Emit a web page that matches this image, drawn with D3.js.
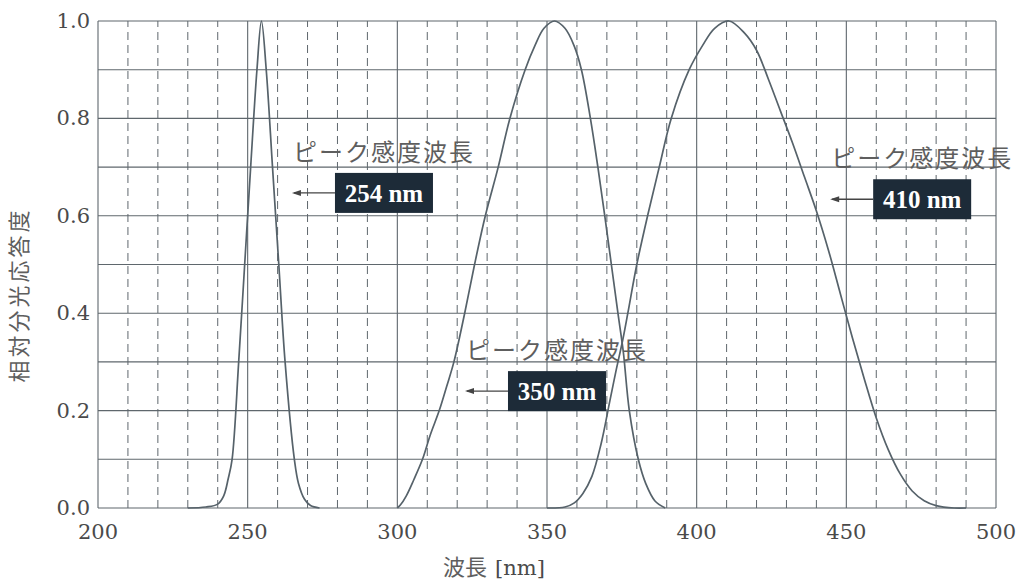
<!DOCTYPE html>
<html>
  <head>
    <meta charset="utf-8" />
    <script src="https://d3js.org/d3.v7.min.js"></script>
    <style>
      body {
        margin: 0;
        background: #ffffff;
      }
      .tick-label {
        font-family: "DejaVu Serif", "Liberation Serif", serif;
        font-size: 21px;
        fill: #4a4a4a;
      }
      .jp {
        font-family: "Noto Sans CJK JP", sans-serif;
        fill: #5e5e5e;
      }
      .box-text {
        font-family: "Liberation Serif", serif;
        font-weight: bold;
        font-size: 25px;
        fill: #ffffff;
      }
    </style>
  </head>

  <body>
    <div id="chartContainer"></div>
  </body>

  <script type="text/javascript">
    // wavelength [nm] / relative response
    const nm254 = [230, 236, 240, 242, 243.5, 244.8, 247, 249, 251, 253.1, 254.6,
      256.2, 258.3, 260.4, 262.5, 265.6, 267, 269, 271, 274];
    const resp254 = [0, 0.002, 0.008, 0.025, 0.06, 0.1, 0.3, 0.5, 0.7, 0.9, 1.0,
      0.9, 0.7, 0.5, 0.3, 0.1, 0.05, 0.018, 0.005, 0];

    const nm350 = [300, 301, 303, 305.5, 308.4, 311, 314, 316.5, 318.9, 322.5, 325.8,
      329.4, 333.7, 337.6, 342.7, 346, 349, 352.5, 356, 359, 361.5, 364.5, 367,
      369.3, 371.5, 373.7, 375.5, 377.5, 380.5, 383, 386, 389.5];
    const resp350 = [0, 0.006, 0.025, 0.058, 0.1, 0.15, 0.2, 0.25, 0.3, 0.4, 0.5,
      0.6, 0.7, 0.8, 0.9, 0.95, 0.985, 1.0, 0.985, 0.95, 0.9, 0.8, 0.7,
      0.6, 0.5, 0.4, 0.32, 0.2, 0.1, 0.05, 0.015, 0];

    const nm410 = [350, 356, 359, 362, 365, 368, 371, 373, 375.3, 377, 380, 383.6,
      387.5, 391.5, 397.5, 402, 406, 410.8, 416, 420, 424, 428, 432, 436, 440,
      444, 448, 452, 456, 460, 464, 468, 472, 476, 480, 486, 490];
    const resp410 = [0, 0.002, 0.01, 0.03, 0.065, 0.13, 0.22, 0.28, 0.345, 0.4, 0.5, 0.6,
      0.7, 0.8, 0.9, 0.95, 0.985, 1.0, 0.975, 0.94, 0.88, 0.815, 0.75, 0.68, 0.61,
      0.53, 0.44, 0.35, 0.265, 0.185, 0.12, 0.07, 0.035, 0.015, 0.005, 0, 0];

    const xTickLabels = [200, 250, 300, 350, 400, 450, 500];
    const yTickLabels = [0.0, 0.2, 0.4, 0.6, 0.8, 1.0];

    const peakTitle = "ピーク感度波長";
    const peakLabels = ["254 nm", "350 nm", "410 nm"];
    const xTitle = "波長";
    const xUnit = "[nm]";
    const yTitle = "相対分光応答度";

    const width = 1023,
      height = 584;

    const svg = d3
      .select("#chartContainer")
      .append("svg")
      .attr("width", width)
      .attr("height", height);

    const x = d3.scaleLinear().domain([200, 500]).range([98, 996]);
    const y = d3.scaleLinear().domain([0, 1]).range([508, 21]);

    const gridColor = "#5f676d";

    // horizontal grid every 0.1
    svg
      .append("g")
      .selectAll("line")
      .data(d3.range(0, 11).map((i) => i / 10))
      .enter()
      .append("line")
      .attr("x1", x(200))
      .attr("x2", x(500))
      .attr("y1", (d) => y(d))
      .attr("y2", (d) => y(d))
      .attr("stroke", gridColor)
      .attr("stroke-width", 1.1);

    // vertical grid every 10 nm, solid at 50 nm
    svg
      .append("g")
      .selectAll("line")
      .data(d3.range(200, 501, 10))
      .enter()
      .append("line")
      .attr("x1", (d) => x(d))
      .attr("x2", (d) => x(d))
      .attr("y1", y(0))
      .attr("y2", y(1))
      .attr("stroke", gridColor)
      .attr("stroke-width", (d) => (d % 50 === 0 ? 1.1 : 1))
      .attr("stroke-dasharray", (d) => (d % 50 === 0 ? null : "8,5"));

    // tick labels
    svg
      .append("g")
      .selectAll("text")
      .data(yTickLabels)
      .enter()
      .append("text")
      .attr("class", "tick-label")
      .attr("x", 90)
      .attr("y", (d) => y(d) + 7)
      .attr("text-anchor", "end")
      .text((d) => d.toFixed(1));

    svg
      .append("g")
      .selectAll("text")
      .data(xTickLabels)
      .enter()
      .append("text")
      .attr("class", "tick-label")
      .attr("x", (d) => x(d))
      .attr("y", 539)
      .attr("text-anchor", "middle")
      .text((d) => d);

    // axis titles
    const xt = svg
      .append("text")
      .attr("x", 494)
      .attr("y", 575)
      .attr("text-anchor", "middle");
    xt.append("tspan").attr("class", "jp").style("font-size", "22px").text(xTitle);
    xt.append("tspan")
      .attr("class", "tick-label")
      .attr("dx", 8)
      .text(xUnit);

    svg
      .append("text")
      .attr("class", "jp")
      .attr("transform", "translate(27, 295) rotate(-90)")
      .attr("text-anchor", "middle")
      .style("font-size", "22px")
      .style("letter-spacing", "3px")
      .text(yTitle);

    // curves
    const line = d3
      .line()
      .x((d) => x(d[0]))
      .y((d) => y(d[1]))
      .curve(d3.curveCatmullRom.alpha(0.5));

    const series = [
      d3.zip(nm254, resp254),
      d3.zip(nm350, resp350),
      d3.zip(nm410, resp410),
    ];

    svg
      .append("g")
      .selectAll("path")
      .data(series)
      .enter()
      .append("path")
      .attr("d", line)
      .attr("fill", "none")
      .attr("stroke", "#56626a")
      .attr("stroke-width", 1.7);

    // peak annotations: arrow tip in data units
    const tips = [
      [264.8, 0.647],
      [322.6, 0.24],
      [444.6, 0.634],
    ];

    const ann = svg.append("g");
    peakLabels.forEach(function (label, i) {
      const tx = x(tips[i][0]),
        ty = y(tips[i][1]);
      const boxX = tx + 43,
        boxW = 98,
        boxH = 40;

      ann
        .append("text")
        .attr("class", "jp")
        .attr("x", tx + 1)
        .attr("y", ty - 32)
        .style("font-size", "24px")
        .style("letter-spacing", "2px")
        .text(peakTitle);

      ann
        .append("line")
        .attr("x1", tx + 2)
        .attr("x2", boxX)
        .attr("y1", ty)
        .attr("y2", ty)
        .attr("stroke", "#444")
        .attr("stroke-width", 1.3);
      ann
        .append("path")
        .attr(
          "d",
          `M${tx},${ty} L${tx + 9},${ty - 3} L${tx + 9},${ty + 3} Z`
        )
        .attr("fill", "#444");

      ann
        .append("rect")
        .attr("x", boxX)
        .attr("y", ty - boxH / 2)
        .attr("width", boxW)
        .attr("height", boxH)
        .attr("fill", "#1d2b38");

      ann
        .append("text")
        .attr("class", "box-text")
        .attr("x", boxX + boxW / 2)
        .attr("y", ty + 9)
        .attr("text-anchor", "middle")
        .text(label);
    });
  </script>
</html>
